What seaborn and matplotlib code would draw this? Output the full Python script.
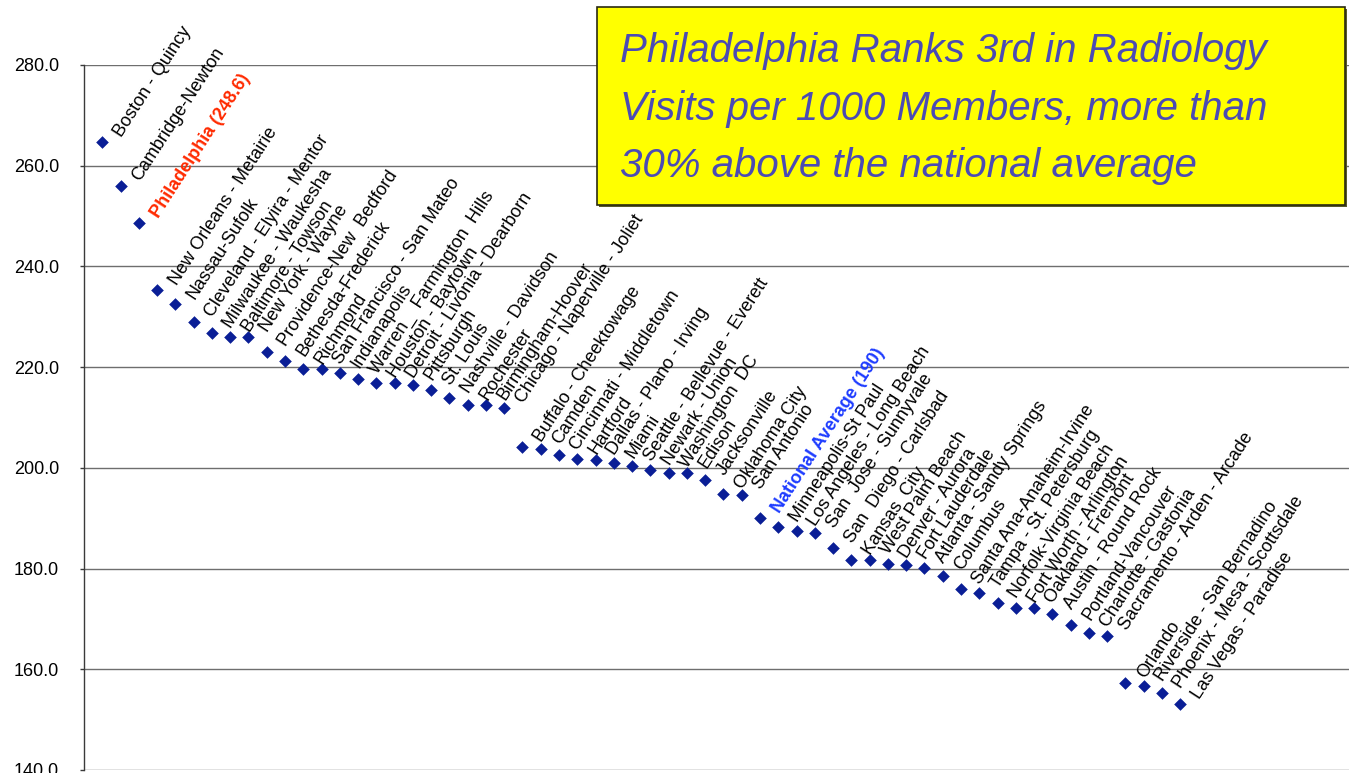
import matplotlib
matplotlib.use("Agg")
import matplotlib.pyplot as plt
import matplotlib.patches as mpatches
from matplotlib.transforms import offset_copy
import seaborn as sns
import pandas as pd

# Radiology visits per 1000 members, by metro area (sorted high to low)
cities = [
    "Boston - Quincy", "Cambridge-Newton", "Philadelphia (248.6)",
    "New Orleans - Metairie", "Nassau-Sufolk", "Cleveland - Elyira - Mentor",
    "Milwaukee - Waukesha", "Baltimore - Towson", "New York - Wayne",
    "Providence-New  Bedford", "Bethesda-Frederick", "Richmond",
    "San Francisco - San Mateo", "Indianapolis", "Warren_  Farmington  Hills",
    "Houston - Baytown", "Detroit - Livonia - Dearborn", "Pittsburgh",
    "St. Louis", "Nashville - Davidson", "Rochester", "Birmingham-Hoover",
    "Chicago - Naperville - Joliet", "Buffalo - Cheektowage", "Camden",
    "Cincinnati - Middletown", "Hartford", "Dallas - Plano - Irving", "Miami",
    "Seattle - Bellevue - Everett", "Newark - Union", "Washington  DC",
    "Edison", "Jacksonville", "Oklahoma City", "San Antonio",
    "National Average (190)", "Minneapolis-St Paul",
    "Los Angeles - Long Beach", "San  Jose - Sunnyvale",
    "San  Diego - Carlsbad", "Kansas  City", "West Palm Beach",
    "Denver - Aurora", "Fort Lauderdale", "Atlanta - Sandy Springs",
    "Columbus", "Santa Ana-Anaheim-Irvine", "Tampa - St. Petersburg",
    "Norfolk-Virginia Beach", "Fort Worth - Arlington", "Oakland - Fremont",
    "Austin - Round Rock", "Portland-Vancouver", "Charlotte - Gastonia",
    "Sacramento - Arden - Arcade", "Orlando", "Riverside - San Bernadino",
    "Phoenix - Mesa - Scottsdale", "Las Vegas - Paradise",
]
visits = [
    264.7, 255.9, 248.6, 235.3, 232.5, 228.9, 226.7, 225.9, 225.9, 223.1,
    221.2, 219.6, 219.6, 218.8, 217.6, 216.8, 216.8, 216.4, 215.5, 213.8,
    212.4, 212.4, 211.8, 204.1, 203.7, 202.5, 201.7, 201.5, 200.9, 200.3,
    199.5, 198.9, 198.9, 197.5, 194.9, 194.7, 190.0, 188.2, 187.4, 187.0,
    184.0, 181.8, 181.8, 181.0, 180.8, 180.2, 178.6, 176.0, 175.2, 173.2,
    172.2, 172.2, 171.0, 168.7, 167.3, 166.7, 157.3, 156.7, 155.3, 153.2,
]
y_ticks = [140, 160, 180, 200, 220, 240, 260, 280]
headline = [
    "Philadelphia Ranks 3rd in Radiology",
    "Visits per 1000 Members, more than",
    "30% above the national average",
]
highlight = {
    "Philadelphia (248.6)": "#FF2A00",
    "National Average (190)": "#1E3CFF",
}

df = pd.DataFrame({"rank": range(1, len(cities) + 1),
                   "city": cities, "visits": visits})

sns.set_style("white")
plt.rcParams["font.family"] = ["Liberation Sans", "DejaVu Sans"]

W, H = 1349, 773
fig = plt.figure(figsize=(W / 100, H / 100), dpi=100)
ax = fig.add_axes([84 / W, 1 - 770 / H, (W - 84) / W, (770 - 65) / H])

sns.scatterplot(data=df, x="rank", y="visits", marker="D", s=36,
                color="#0A1E96", edgecolor="#0A1E96", linewidth=0.4,
                ax=ax, zorder=3, legend=False)

ax.set_xlim(0, (W - 84) / 18.27)
ax.set_ylim(140, 280)
ax.set_yticks(y_ticks)
ax.set_yticklabels([f"{t:.1f}" for t in y_ticks], fontsize=13)
ax.set_xticks([])
ax.set_xlabel("")
ax.set_ylabel("")
ax.yaxis.grid(True, color="#6e6e6e", linewidth=1.0)
ax.set_axisbelow(True)
for side in ("top", "right", "bottom"):
    ax.spines[side].set_visible(False)
ax.spines["left"].set_color("#3a3a3a")
ax.spines["left"].set_linewidth(1.0)
ax.tick_params(axis="y", left=True, length=3, width=1, color="#3a3a3a",
               pad=15, labelcolor="black")

# Rotated data labels to the right of each marker
label_tf = offset_copy(ax.transData, fig=fig, x=14, y=3, units="points")
for r, c, v in zip(df["rank"], df["city"], df["visits"]):
    color = highlight.get(c, "black")
    weight = "bold" if c in highlight else "normal"
    ax.text(r, v, c, transform=label_tf, rotation=57,
            rotation_mode="anchor", ha="left", va="baseline",
            fontsize=13, color=color, fontweight=weight, zorder=4,
            clip_on=False)

# Headline box
bx0, by0, bx1, by1 = 597, 7, 1345, 205
shadow = mpatches.Rectangle((bx0 / W + 2 / W, 1 - by1 / H - 2 / H),
                            (bx1 - bx0) / W, (by1 - by0) / H,
                            transform=fig.transFigure, facecolor="#5a5a2a",
                            edgecolor="none", zorder=5)
box = mpatches.Rectangle((bx0 / W, 1 - by1 / H), (bx1 - bx0) / W,
                         (by1 - by0) / H, transform=fig.transFigure,
                         facecolor="#FFFF00", edgecolor="#2a2a10",
                         linewidth=1.2, zorder=6)
fig.patches.extend([shadow, box])
for i, line in enumerate(headline):
    fig.text(620 / W, 1 - (62 + 57.5 * i) / H, line, ha="left",
             va="baseline", fontsize=29, fontstyle="italic",
             color="#4B4BB4", zorder=7)

fig.savefig("out.png", dpi=100)
